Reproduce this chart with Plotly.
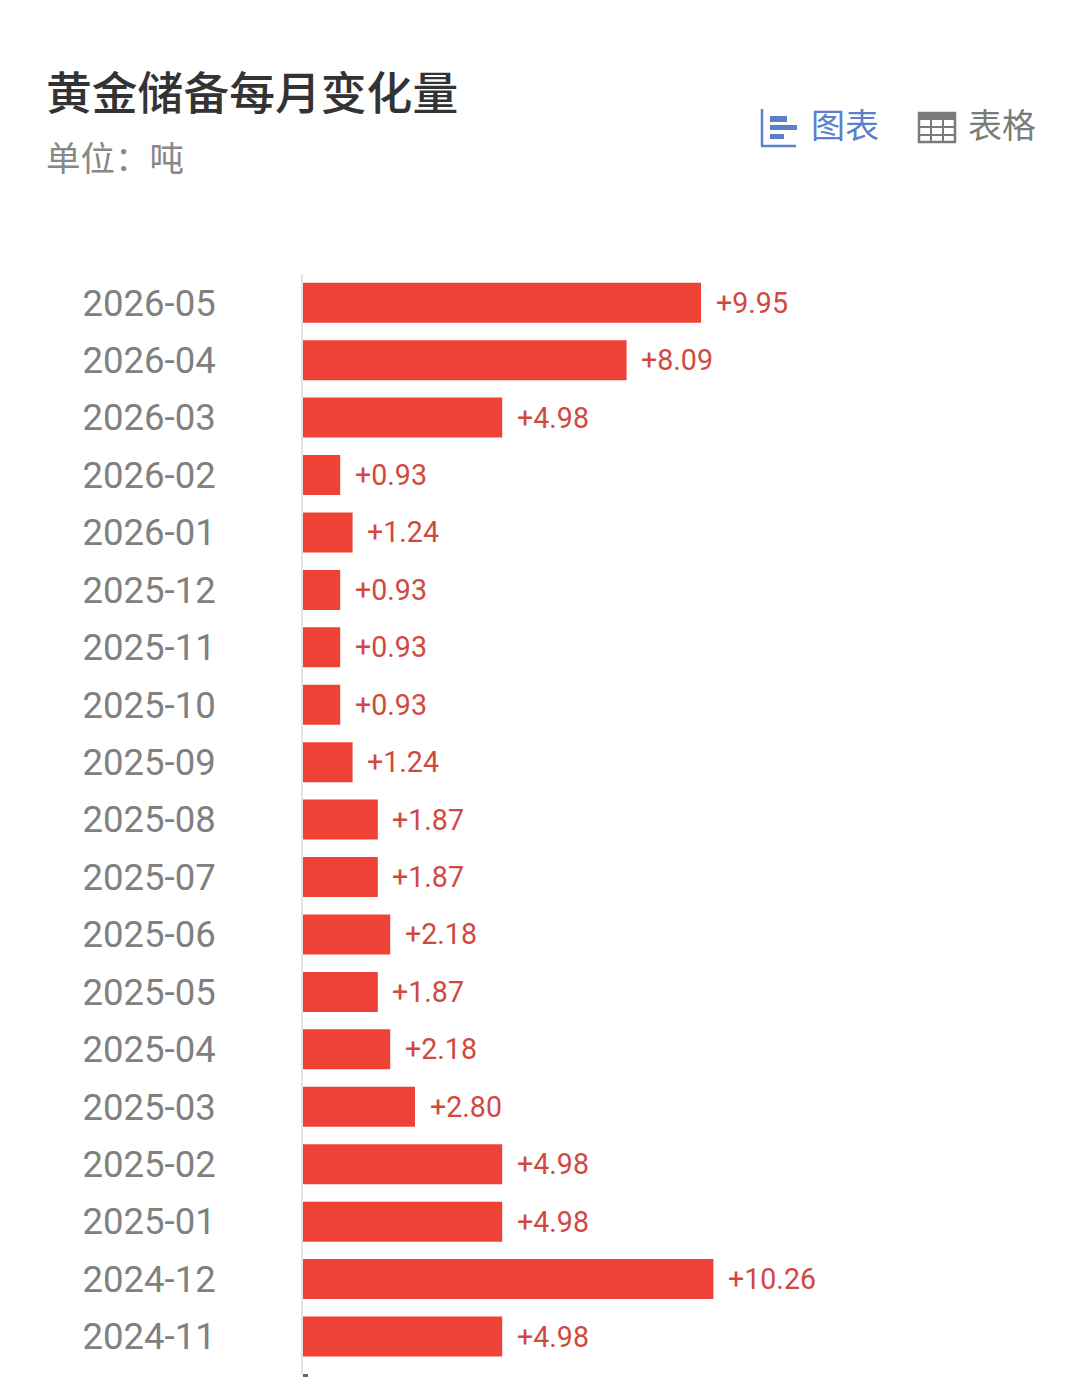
import plotly.graph_objects as go

months = ["2026-05","2026-04","2026-03","2026-02","2026-01","2025-12","2025-11","2025-10","2025-09","2025-08",
          "2025-07","2025-06","2025-05","2025-04","2025-03","2025-02","2025-01","2024-12","2024-11"]
changes = [9.95,8.09,4.98,0.93,1.24,0.93,0.93,0.93,1.24,1.87,1.87,2.18,1.87,2.18,2.80,4.98,4.98,10.26,4.98]
title = "黄金储备每月变化量"
subtitle = "单位：吨"
tab_chart = "图表"
tab_table = "表格"

W, H = 1080, 1377
L, R, T, B = 303, 17, 274, 2
CJK = "Noto Sans CJK SC"
BLUE = "#5a7fcb"
GRAY = "#7b7b7b"

def px(x): return (x - L) / (W - L - R)
def py(y): return 1 - (y - T) / (H - T - B)

fig = go.Figure(go.Bar(
    y=months, x=changes, orientation="h",
    marker=dict(color="#ee4237", line=dict(width=0)),
    textposition="none",
    hoverinfo="y+x",
))

for m, v in zip(months, changes):
    fig.add_annotation(x=v, y=m, text=f"+{v:.2f}", showarrow=False, xanchor="left", xshift=12.5,
                       yshift=0, font=dict(family="Roboto", size=28.6, color="#d0493f"))

def txt(x, y, s, size, color, weight=400):
    fig.add_annotation(xref="paper", yref="paper", x=px(x), y=py(y), text=s, showarrow=False,
                       xanchor="left", yanchor="middle",
                       font=dict(family=CJK, size=size, color=color, weight=weight))

txt(43.5, 90.5, title, 45.8, "#333333", 500)
txt(44, 156, subtitle, 34.5, "#888888")
txt(808.5, 124, tab_chart, 34, BLUE)
txt(966, 124, tab_table, 34, GRAY)

def rect(x0, y0, x1, y1, **kw):
    fig.add_shape(type="rect", xref="paper", yref="paper", x0=px(x0), x1=px(x1), y0=py(y0), y1=py(y1), **kw)

def line(x0, y0, x1, y1, color, w):
    fig.add_shape(type="line", xref="paper", yref="paper", x0=px(x0), x1=px(x1), y0=py(y0), y1=py(y1),
                  line=dict(color=color, width=w))

# chart-tab icon
line(762, 109, 762, 146, BLUE, 2.5)
line(761, 146, 796, 146, BLUE, 2.5)
rect(770, 116, 787, 122, fillcolor=BLUE, line_width=0)
rect(770, 125, 797, 130, fillcolor=BLUE, line_width=0)
rect(770, 134, 784, 139, fillcolor=BLUE, line_width=0)

# table-tab icon
rect(919, 113, 955, 142, fillcolor="rgba(0,0,0,0)", line=dict(color=GRAY, width=2.5))
rect(919, 113, 955, 120, fillcolor=GRAY, line_width=0)
line(919, 127, 955, 127, GRAY, 2)
line(919, 135, 955, 135, GRAY, 2)
line(931, 120, 931, 142, GRAY, 2)
line(943, 120, 943, 142, GRAY, 2)

# axis foot tick
rect(303, 1374, 308, 1377, fillcolor="#666666", line_width=0)

fig.update_layout(
    width=W, height=H, margin=dict(l=L, r=R, t=T, b=B, pad=0),
    paper_bgcolor="#ffffff", plot_bgcolor="#ffffff",
    bargap=0.3036, showlegend=False,
    xaxis=dict(range=[0, 19], visible=False, fixedrange=True),
    yaxis=dict(type="category", range=[18.67, -0.5], showgrid=False, zeroline=False,
               showline=True, linecolor="#e4e4e4", linewidth=2, ticks="", ticklabelstandoff=78,
               tickfont=dict(family="Roboto", size=36.5, color="#808080"), fixedrange=True),
)
fig.write_html("out.html", post_script="document.body.style.margin='0';", config={"displayModeBar": False})
